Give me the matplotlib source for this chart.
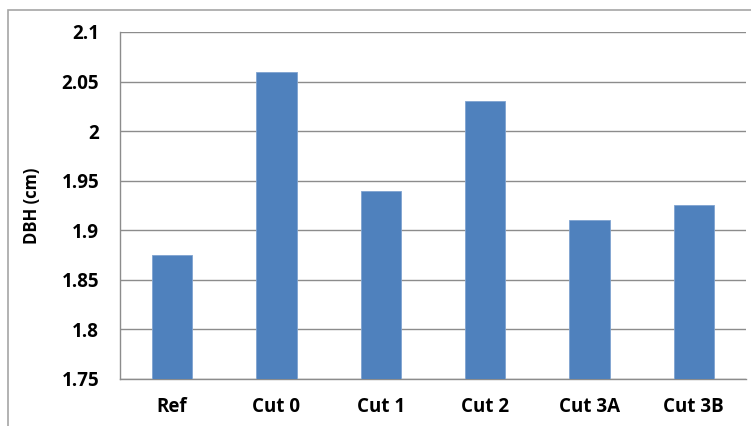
import matplotlib.pyplot as plt
from matplotlib.patches import Rectangle

# mean DBH per treatment
treatments = ["Ref", "Cut 0", "Cut 1", "Cut 2", "Cut 3A", "Cut 3B"]
dbh_cm = [1.875, 2.06, 1.94, 2.03, 1.91, 1.925]
y_ticks = [1.75, 1.8, 1.85, 1.9, 1.95, 2.0, 2.05, 2.1]
y_tick_labels = ["1.75", "1.8", "1.85", "1.9", "1.95", "2", "2.05", "2.1"]

plt.rcParams['font.family'] = ['Open Sans', 'DejaVu Sans']

fig = plt.figure(figsize=(7.51, 4.26), dpi=100)
ax = fig.add_axes([120 / 751, 47 / 426, 626 / 751, 347 / 426])

ax.bar(range(len(treatments)), dbh_cm, width=0.385, color="#4F81BD",
       edgecolor="#7FA3D0", linewidth=0.6, zorder=3)

ax.set_xlim(-0.5, len(treatments) - 0.5)
ax.set_ylim(1.75, 2.1)
ax.set_yticks(y_ticks)
ax.set_yticklabels(y_tick_labels)
ax.set_xticks(range(len(treatments)))
ax.set_xticklabels(treatments)

ax.yaxis.grid(True, color="#8C8C8C", linewidth=1.0, zorder=0)
ax.tick_params(axis="both", length=0, labelsize=13.5)
ax.tick_params(axis="y", pad=15)
ax.tick_params(axis="x", pad=13)
for lbl in ax.get_xticklabels() + ax.get_yticklabels():
    lbl.set_fontweight("bold")

for side in ["top", "right"]:
    ax.spines[side].set_visible(False)
for side in ["left", "bottom"]:
    ax.spines[side].set_color("#8C8C8C")
    ax.spines[side].set_linewidth(1.0)

ax.set_ylabel("DBH (cm)", fontsize=12, fontweight="bold")
ax.yaxis.set_label_coords(-79 / 626, 0.5)

# chart area frame
fig.patches.append(Rectangle((8 / 751, -0.1), 1.2, (416 / 426) + 0.1,
                             transform=fig.transFigure, fill=False,
                             edgecolor="#A6A6A6", linewidth=1.2))

fig.savefig("out.png", dpi=100)
